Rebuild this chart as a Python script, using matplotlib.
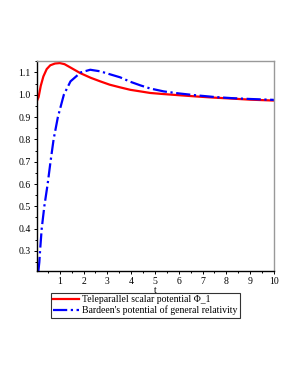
import matplotlib
matplotlib.use("Agg")
import matplotlib.pyplot as plt
from matplotlib.ticker import MultipleLocator

plt.rcParams['font.family'] = ['Liberation Serif', 'DejaVu Serif']

# values
t_tele = [0.05, 0.11, 0.2, 0.31, 0.45, 0.6, 0.8, 1.0, 1.2, 1.45, 1.86, 2.3, 2.7,
          3.1, 3.54, 3.97, 4.39, 4.8, 5.37, 6.0, 6.78, 7.5, 8.2, 9.0, 10.0]
phi_tele = [0.975, 0.99, 1.04, 1.082, 1.115, 1.132, 1.14, 1.142, 1.137, 1.122,
            1.097, 1.076, 1.06, 1.045, 1.033, 1.022, 1.015, 1.008, 1.003,
            0.998, 0.992, 0.987, 0.983, 0.978, 0.974]

t_bard = [0.1, 0.14, 0.17, 0.24, 0.35, 0.49, 0.61, 0.74, 0.92, 1.17, 1.45, 1.88,
          2.28, 2.7, 3.1, 3.54, 3.97, 4.39, 4.8, 5.37, 6.0, 6.78, 7.5, 8.2, 9.0, 10.0]
phi_bard = [0.21, 0.25, 0.3, 0.4, 0.5, 0.6, 0.7, 0.8, 0.9, 1.0, 1.06, 1.1,
            1.112, 1.105, 1.092, 1.078, 1.058, 1.042, 1.028, 1.015, 1.006,
            0.997, 0.99, 0.985, 0.981, 0.977]

labels = ["Teleparallel scalar potential \u03a6_1",
          "Bardeen's potential of general relativity"]

fig = plt.figure(figsize=(2.98, 3.85), dpi=100)
ax = fig.add_axes([0.124, 0.296, 0.795, 0.546])

ax.plot(t_tele, phi_tele, color='#ff0000', lw=1.6, label=labels[0])
ax.plot(t_bard, phi_bard, color='#0000ff', lw=1.6, linestyle='-.', label=labels[1])

ax.set_xlim(0.04, 10)
ax.set_ylim(0.21, 1.152)
ax.xaxis.set_major_locator(MultipleLocator(1))
ax.xaxis.set_minor_locator(MultipleLocator(0.5))
ax.yaxis.set_major_locator(MultipleLocator(0.1))
ax.yaxis.set_minor_locator(MultipleLocator(0.05))
ax.tick_params(which='both', direction='out', labelsize=7, length=2.5, width=0.7, pad=2)
ax.tick_params(which='minor', length=1.5)
ax.set_xlabel('t', fontsize=7, labelpad=0)

for s in ['top', 'right']:
    ax.spines[s].set_color('#999999')
for s in ['left', 'bottom']:
    ax.spines[s].set_color('black')
for s in ax.spines.values():
    s.set_linewidth(1.0)

leg = fig.legend(loc='upper left', bbox_to_anchor=(0.171, 0.24), fontsize=7.0,
                 frameon=True, fancybox=False, handlelength=2.6, borderpad=0.25,
                 labelspacing=0.15, handletextpad=0.35, borderaxespad=0)
leg.get_frame().set_edgecolor('black')
leg.get_frame().set_linewidth(0.8)

fig.savefig('out.png', dpi=100)
